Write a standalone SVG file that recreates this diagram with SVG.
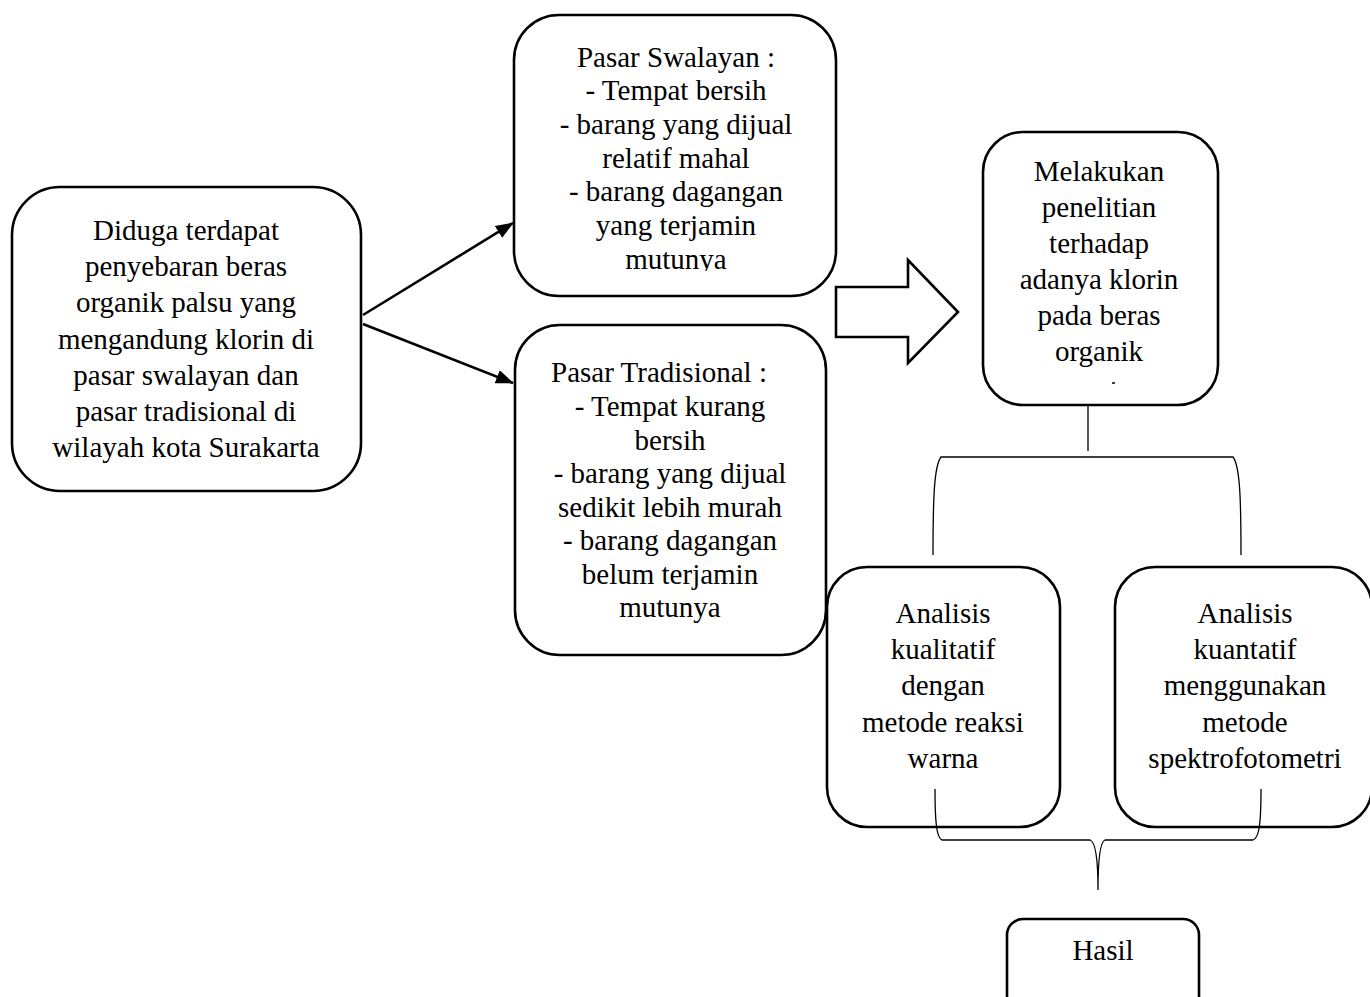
<svg xmlns="http://www.w3.org/2000/svg" width="1370" height="997" viewBox="0 0 1370 997">
<style>
.box{fill:#fff;stroke:#000;stroke-width:2.6}
.t{font-family:"Liberation Serif","Times New Roman",serif;font-size:29px;fill:#000;text-anchor:middle}
.thin{fill:none;stroke:#000;stroke-width:1.3}
.arr{fill:none;stroke:#000;stroke-width:2.6}
</style>
<defs>
<marker id="ah" markerUnits="userSpaceOnUse" markerWidth="18" markerHeight="14" refX="17" refY="7" orient="auto">
<path d="M0,0 L18,7 L0,14 Z" fill="#000"/>
</marker>
<clipPath id="c2"><rect x="514" y="15" width="322" height="256"/></clipPath>
</defs>
<rect width="1370" height="997" fill="#fff"/>
<g id="n1">
<rect class="box" x="12" y="187" width="349" height="304" rx="48"/>
<text class="t" x="186" y="240">Diduga terdapat</text>
<text class="t" x="186" y="276">penyebaran beras</text>
<text class="t" x="186" y="312">organik palsu yang</text>
<text class="t" x="186" y="349">mengandung klorin di</text>
<text class="t" x="186" y="385">pasar swalayan dan</text>
<text class="t" x="186" y="421">pasar tradisional di</text>
<text class="t" x="186" y="457">wilayah kota Surakarta</text>
</g>
<g id="n2">
<rect class="box" x="514" y="15" width="322" height="281" rx="45"/>
<g clip-path="url(#c2)">
<text class="t" x="676" y="67">Pasar Swalayan :</text>
<text class="t" x="676" y="100">- Tempat bersih</text>
<text class="t" x="676" y="134">- barang yang dijual</text>
<text class="t" x="676" y="168">relatif mahal</text>
<text class="t" x="676" y="201">- barang dagangan</text>
<text class="t" x="676" y="235">yang terjamin</text>
<text class="t" x="676" y="269">mutunya</text>
</g>
</g>
<g id="n3">
<rect class="box" x="515" y="325" width="311" height="330" rx="45"/>
<text class="t" x="659" y="382">Pasar Tradisional :</text>
<text class="t" x="670" y="416">- Tempat kurang</text>
<text class="t" x="670" y="450">bersih</text>
<text class="t" x="670" y="483">- barang yang dijual</text>
<text class="t" x="670" y="517">sedikit lebih murah</text>
<text class="t" x="670" y="550">- barang dagangan</text>
<text class="t" x="670" y="584">belum terjamin</text>
<text class="t" x="670" y="617">mutunya</text>
</g>
<g id="n4">
<rect class="box" x="983" y="132" width="235" height="273" rx="40"/>
<text class="t" x="1099" y="181">Melakukan</text>
<text class="t" x="1099" y="217">penelitian</text>
<text class="t" x="1099" y="253">terhadap</text>
<text class="t" x="1099" y="289">adanya klorin</text>
<text class="t" x="1099" y="325">pada beras</text>
<text class="t" x="1099" y="361">organik</text>
<line x1="1112" y1="383" x2="1115" y2="383" stroke="#000" stroke-width="1.5"/>
</g>
<g id="n5">
<rect class="box" x="827" y="567" width="233" height="260" rx="40"/>
<text class="t" x="943" y="623">Analisis</text>
<text class="t" x="943" y="659">kualitatif</text>
<text class="t" x="943" y="695">dengan</text>
<text class="t" x="943" y="732">metode reaksi</text>
<text class="t" x="943" y="768">warna</text>
</g>
<g id="n6">
<rect class="box" x="1115" y="567" width="257" height="260" rx="40"/>
<text class="t" x="1245" y="623">Analisis</text>
<text class="t" x="1245" y="659">kuantatif</text>
<text class="t" x="1245" y="695">menggunakan</text>
<text class="t" x="1245" y="732">metode</text>
<text class="t" x="1245" y="768">spektrofotometri</text>
</g>
<g id="n7">
<rect class="box" x="1007" y="919" width="192" height="100" rx="16"/>
<text class="t" x="1103" y="960">Hasil</text>
</g>
<g id="connectors">
<line class="arr" x1="363" y1="315" x2="513" y2="223" marker-end="url(#ah)"/>
<line class="arr" x1="363" y1="324" x2="513" y2="383" marker-end="url(#ah)"/>
<path class="arr" d="M836,287 L908,287 L908,260 L958,312 L908,363 L908,337 L836,337 Z" fill="#fff"/>
<line class="thin" x1="1088" y1="405" x2="1088" y2="451"/>
<path class="thin" d="M933,555 C933,500 934,466 941,457 L1233,457 C1240,466 1241,500 1241,555"/>
<path class="thin" d="M935,789 C935,825 937,838 942,840 L1090,840 C1096,842 1098,860 1098,890 C1098,860 1100,842 1105,840 L1253,840 C1259,838 1261,825 1261,789"/>
</g>
</svg>
